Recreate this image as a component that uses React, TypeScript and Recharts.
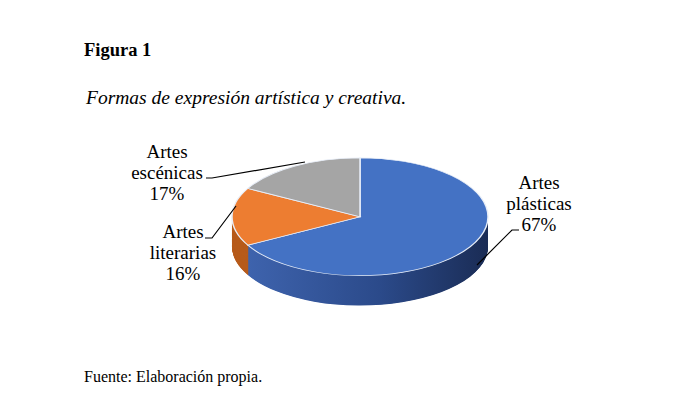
import { PieChart, Pie, Cell } from 'recharts'

const categories = ['Artes plásticas', 'Artes literarias', 'Artes escénicas']
const values = [67, 16, 17]
const topColors = ['#4472c4', '#ed7d31', '#a5a5a5']
const sideColors = ['url(#blueSide)', '#b75c1c', '#7c7c7c']

const data = categories.map((name, i) => ({ name, value: values[i] }))

// flat pie squashed vertically + stacked copies underneath = fake 3D
const TILT = 0.46
const RADIUS = 128
const DEPTH = 65
const layers = Array.from({ length: DEPTH }, (_, i) => DEPTH - i)

const labelPos: Record<string, { x: number; y: number; line: number[][] }> = {
  'Artes plásticas': { x: 539, y: 189, line: [[519, 230], [512, 230], [477, 265]] },
  'Artes literarias': { x: 183, y: 238, line: [[205, 238], [212, 238], [236, 206]] },
  'Artes escénicas': { x: 167, y: 158, line: [[206, 178], [212, 178], [305, 162]] },
}

const serif = '"Liberation Serif", "Times New Roman", serif'

export default function App() {
  return (
    <div style={{ position: 'absolute', left: 0, top: 0, width: 690, height: 394, background: '#fff', color: '#000', fontFamily: serif }}>
      <div style={{ position: 'absolute', left: 84, top: 40, fontSize: 18.5, fontWeight: 'bold' }}>Figura 1</div>
      <div style={{ position: 'absolute', left: 86, top: 87, fontSize: 19.5, fontStyle: 'italic' }}>
        Formas de expresión artística y creativa.
      </div>
      <div style={{ position: 'absolute', left: 84, top: 368, fontSize: 16 }}>Fuente: Elaboración propia.</div>

      <div
        style={{
          position: 'absolute',
          left: 229.5,
          top: 156.5,
          width: 260,
          height: 340,
          transform: `scaleY(${TILT})`,
          transformOrigin: 'top left',
        }}
      >
        <PieChart width={260} height={340} margin={{ top: 0, right: 0, bottom: 0, left: 0 }}>
          <defs>
            <linearGradient id="blueSide" x1="0" y1="0" x2="1" y2="0">
              <stop offset="0%" stopColor="#3e63ad" />
              <stop offset="55%" stopColor="#2b4a8a" />
              <stop offset="100%" stopColor="#1a2c55" />
            </linearGradient>
          </defs>
          {layers.map((d) => (
            <Pie
              key={`side-${d}`}
              data={data}
              dataKey="value"
              cx={130}
              cy={130 + d}
              outerRadius={RADIUS}
              startAngle={90}
              endAngle={-270}
              stroke="none"
              isAnimationActive={false}
              label={false}
              labelLine={false}
            >
              {data.map((e, i) => (
                <Cell key={`s-${d}-${i}`} fill={sideColors[i]} />
              ))}
            </Pie>
          ))}
          <Pie
            data={data}
            dataKey="value"
            cx={130}
            cy={130}
            outerRadius={RADIUS}
            startAngle={90}
            endAngle={-270}
            stroke="#e8eef8"
            strokeWidth={1.5}
            isAnimationActive={false}
            label={false}
            labelLine={false}
          >
            {data.map((e, i) => (
              <Cell key={`t-${i}`} fill={topColors[i]} />
            ))}
          </Pie>
        </PieChart>
      </div>

      <svg width={690} height={394} style={{ position: 'absolute', left: 0, top: 0, pointerEvents: 'none' }}>
        {data.map((e) => {
          const p = labelPos[e.name]
          const [first, ...rest] = e.name.split(' ')
          return (
            <g key={e.name}>
              <polyline points={p.line.map((q) => q.join(',')).join(' ')} fill="none" stroke="#000" strokeWidth={1.2} />
              <text x={p.x} y={p.y} textAnchor="middle" fontFamily={serif} fontSize={19} fill="#000">
                <tspan x={p.x}>{first}</tspan>
                <tspan x={p.x} dy={21}>{rest.join(' ')}</tspan>
                <tspan x={p.x} dy={21}>{e.value}%</tspan>
              </text>
            </g>
          )
        })}
      </svg>
    </div>
  )
}
